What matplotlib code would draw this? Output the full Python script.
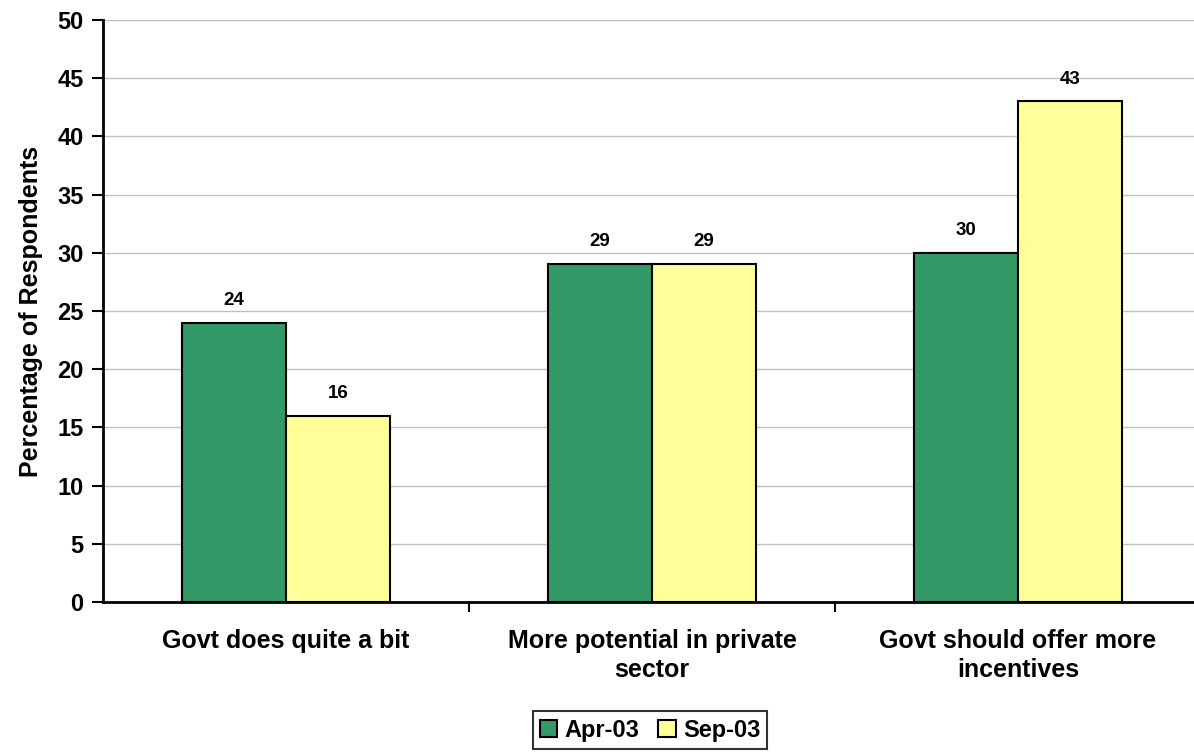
import matplotlib.pyplot as plt
import numpy as np

# Datos
categorias = ["Govt does quite a bit", "More potential in private\nsector", "Govt should offer more\nincentives"]
series = ["Apr-03", "Sep-03"]
abr03 = [24, 29, 30]
sep03 = [16, 29, 43]
colores = ["#339966", "#FFFF99"]

plt.rcParams['font.family'] = ['Liberation Sans', 'DejaVu Sans']
plt.rcParams['font.weight'] = 'bold'

fig = plt.figure(figsize=(11.94, 7.56), dpi=100)
ax = fig.add_axes([103 / 1194, 1 - 602 / 756, 1098 / 1194, 582 / 756])

x = np.arange(len(categorias))
ancho = 104 / 366

for i, (vals, nombre) in enumerate(zip([abr03, sep03], series)):
    pos = x + (i - 0.5) * ancho
    ax.bar(pos, vals, ancho, color=colores[i], edgecolor="black", linewidth=1.5, label=nombre, zorder=3)
    for xb, v in zip(pos, vals):
        ax.text(xb, v + 1.2, str(v), ha="center", va="bottom", fontsize=13.5, fontweight="bold")

ax.set_xlim(-0.5, 2.5)
ax.set_ylim(0, 50)
ax.set_yticks(range(0, 51, 5))
ax.yaxis.grid(True, color="#C0C0C0", linewidth=1, zorder=0)
ax.set_xticks([0.5, 1.5])
ax.set_xticklabels([])
ax.tick_params(axis="x", direction="out", length=7, width=1.5)
ax.tick_params(axis="y", direction="out", length=8, width=1.5, labelsize=17, pad=6)
for etiqueta in ax.get_yticklabels():
    etiqueta.set_fontweight("bold")
for xc, cat in zip(x, categorias):
    ax.text(xc, -2.3, cat, ha="center", va="top", fontsize=18, fontweight="bold", linespacing=1.3)

ax.spines["top"].set_visible(False)
ax.spines["right"].set_visible(False)
ax.spines["left"].set_linewidth(2)
ax.spines["bottom"].set_linewidth(2)

ax.set_ylabel("Percentage of Respondents", fontsize=18, fontweight="bold", labelpad=10)

leg = fig.legend(loc="center", bbox_to_anchor=(650 / 1194, 1 - 730 / 756), ncol=2, fontsize=17,
                 frameon=True, fancybox=False, edgecolor="black", handlelength=0.75, handleheight=0.75,
                 handletextpad=0.3, columnspacing=0.8, borderpad=0.3)
leg.get_frame().set_linewidth(1.5)
for t in leg.get_texts():
    t.set_fontweight("bold")

fig.savefig("out.png", dpi=100)
